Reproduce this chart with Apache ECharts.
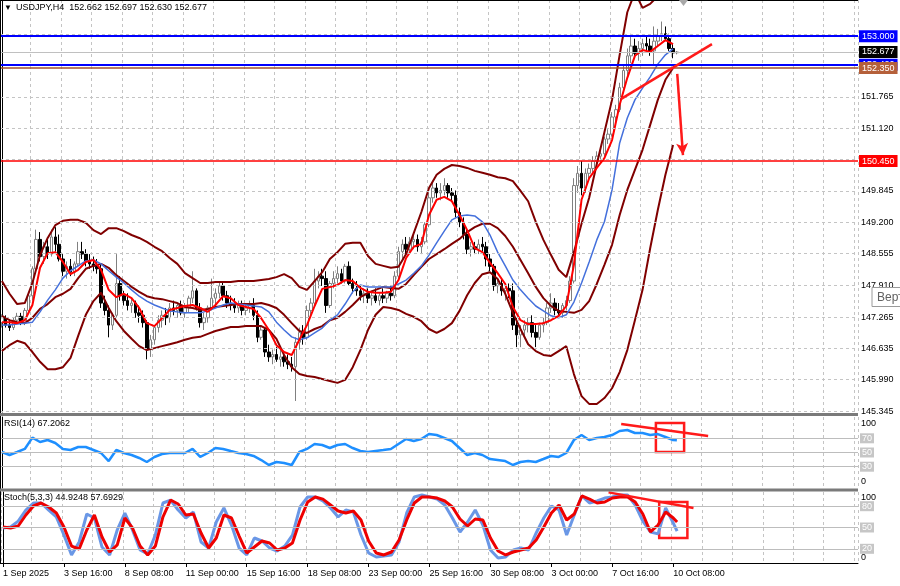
<!DOCTYPE html>
<html><head><meta charset="utf-8">
<script src="https://cdn.jsdelivr.net/npm/echarts@6/dist/echarts.min.js"></script>
<style>html,body{margin:0;padding:0;background:#fff}#c{width:900px;height:586px}</style>
</head><body><div id="c"></div>
<script>
const symbolTitle = 'USDJPY,H4';
const lastOHLC = ['152.662', '152.697', '152.630', '152.677'];
const rsiTitle = 'RSI(14) 67.2062';
const stochTitle = 'Stoch(5,3,3) 44.9248 57.6929';
const xTickLabels = ['1 Sep 2025','3 Sep 16:00','8 Sep 08:00','11 Sep 00:00','15 Sep 16:00','18 Sep 08:00','23 Sep 00:00','25 Sep 16:00','30 Sep 08:00','3 Oct 00:00','7 Oct 16:00','10 Oct 08:00'];
const barsPerLabel = 16;
const barsPerGrid = 8;
const totalSlots = 225;

const opens = [147.15,147.25,147.10,147.05,147.20,147.28,147.15,147.40,147.70,148.25,148.85,148.50,148.70,148.55,148.90,148.75,148.45,148.20,148.30,148.18,
148.35,148.60,148.55,148.40,148.35,148.30,148.25,147.55,147.40,147.10,147.30,147.95,147.70,147.60,147.50,147.55,147.35,147.30,147.15,146.60,
146.80,147.05,147.20,147.30,147.25,147.45,147.40,147.50,147.35,147.45,147.65,147.80,147.45,147.15,147.25,147.45,147.65,147.75,147.90,147.70,
147.55,147.50,147.45,147.50,147.40,147.45,147.50,147.30,146.85,147.00,146.55,146.45,146.50,146.40,146.45,146.35,146.30,146.25,146.75,146.95,
146.85,147.40,147.55,148.00,148.10,148.05,147.50,147.95,148.05,148.15,148.00,148.30,147.95,147.85,147.80,147.70,147.75,147.65,147.70,147.60,
147.70,147.65,147.75,147.70,148.10,148.60,148.75,148.65,148.80,148.85,148.70,148.80,149.15,149.70,149.90,149.80,149.85,149.95,149.80,149.75,
149.40,149.20,148.95,148.65,148.70,148.65,148.75,148.70,148.45,148.30,147.90,147.95,147.80,147.85,147.80,147.10,146.90,147.00,147.10,147.15,
146.95,146.85,147.10,147.15,147.45,147.55,147.40,147.35,147.50,147.60,148.00,149.95,150.20,149.90,150.20,150.30,150.45,150.55,150.60,150.90,
151.00,151.35,151.50,151.95,152.30,152.60,152.80,152.65,152.75,152.85,152.80,152.70,152.90,153.00,153.05,152.95,152.75,152.662];
const highs = [147.32,147.30,147.22,147.25,147.35,147.35,147.45,147.75,148.30,149.05,149.00,148.80,148.85,149.05,149.10,148.95,148.55,148.40,148.45,148.40,
148.80,148.80,148.65,148.55,148.50,148.45,148.35,147.70,147.50,147.35,148.55,148.10,147.80,147.75,147.65,147.60,147.50,147.40,147.20,146.90,
147.10,147.30,147.40,147.45,147.55,147.60,147.55,147.60,147.55,147.70,148.20,147.85,147.55,147.35,147.50,148.05,147.85,148.00,148.00,147.80,
147.70,147.65,147.60,147.60,147.55,147.60,147.65,147.40,147.10,147.05,146.70,146.60,146.65,146.60,146.55,146.50,146.45,146.85,147.05,147.10,
147.50,147.65,148.25,148.20,148.25,148.20,148.00,148.20,148.30,148.25,148.35,148.40,148.05,148.00,147.90,147.85,147.85,147.80,147.85,147.75,
147.85,147.80,147.90,148.20,148.70,148.85,148.90,148.90,149.00,148.95,148.90,149.20,149.80,150.05,150.00,150.00,150.10,150.00,149.90,149.85,
149.50,149.30,149.05,148.80,148.80,148.85,148.90,148.80,148.55,148.35,148.05,148.05,147.95,147.95,147.95,147.25,147.10,147.20,147.25,147.30,
147.10,147.15,147.25,147.55,147.75,147.65,147.55,147.55,147.70,148.10,150.10,150.35,150.45,150.30,150.40,150.55,150.65,150.70,150.95,151.10,
151.45,151.60,152.05,152.40,152.75,153.05,152.95,152.90,152.95,153.00,152.95,153.20,153.15,153.30,153.20,153.05,152.85,152.697];
const lows = [147.05,147.05,146.98,147.00,147.12,147.10,147.10,147.35,147.60,148.15,148.40,148.35,148.45,148.50,148.60,148.40,148.10,148.05,148.10,148.10,
148.30,148.45,148.30,148.25,148.20,148.15,147.45,147.30,146.85,147.00,147.25,147.60,147.50,147.40,147.35,147.25,147.15,147.05,146.40,146.45,
146.70,146.95,147.05,147.10,147.15,147.30,147.25,147.30,147.25,147.35,147.55,147.40,147.05,147.00,147.15,147.40,147.50,147.65,147.60,147.45,
147.40,147.35,147.35,147.30,147.30,147.35,147.20,146.75,146.80,146.45,146.35,146.30,146.35,146.25,146.25,146.20,146.15,145.55,146.60,146.70,
146.80,147.30,147.50,147.85,147.90,147.35,147.45,147.85,147.95,147.95,147.95,147.90,147.75,147.70,147.60,147.55,147.55,147.50,147.55,147.50,
147.55,147.55,147.60,147.65,148.05,148.45,148.55,148.55,148.65,148.60,148.55,148.75,149.10,149.60,149.70,149.65,149.75,149.70,149.65,149.30,
149.10,148.85,148.55,148.50,148.55,148.55,148.60,148.30,148.20,147.80,147.75,147.70,147.60,147.65,147.00,146.65,146.65,146.85,146.95,146.85,
146.65,146.80,146.95,147.10,147.35,147.30,147.25,147.25,147.40,147.55,147.95,149.80,149.75,149.80,150.05,150.20,150.35,150.40,150.55,150.80,
150.95,151.25,151.45,151.90,152.20,152.45,152.55,152.50,152.60,152.70,152.60,152.40,152.80,152.90,152.90,152.70,152.55,152.630];
const closes = [147.25,147.10,147.05,147.20,147.28,147.15,147.40,147.70,148.25,148.85,148.50,148.70,148.55,148.90,148.75,148.45,148.20,148.30,148.18,148.35,
148.60,148.55,148.40,148.35,148.30,148.25,147.55,147.40,147.10,147.30,147.95,147.70,147.60,147.50,147.55,147.35,147.30,147.15,146.60,146.80,
147.05,147.20,147.30,147.25,147.45,147.40,147.50,147.35,147.45,147.65,147.80,147.45,147.15,147.25,147.45,147.65,147.75,147.90,147.70,147.55,
147.50,147.45,147.50,147.40,147.45,147.50,147.30,146.85,147.00,146.55,146.45,146.50,146.40,146.45,146.35,146.30,146.25,146.75,146.95,146.85,
147.40,147.55,148.00,148.10,148.05,147.50,147.95,148.05,148.15,148.00,148.30,147.95,147.85,147.80,147.70,147.75,147.65,147.70,147.60,147.70,
147.65,147.75,147.70,148.10,148.60,148.75,148.65,148.80,148.85,148.70,148.80,149.15,149.70,149.90,149.80,149.85,149.95,149.80,149.75,149.40,
149.20,148.95,148.65,148.70,148.65,148.75,148.70,148.45,148.30,147.90,147.95,147.80,147.85,147.80,147.10,146.90,147.00,147.10,147.15,146.95,
146.85,147.10,147.15,147.45,147.55,147.40,147.35,147.50,147.60,148.00,149.95,150.20,149.90,150.20,150.30,150.45,150.55,150.60,150.90,151.00,
151.35,151.50,151.95,152.30,152.60,152.80,152.65,152.75,152.85,152.80,152.70,152.90,153.00,153.05,152.95,152.75,152.66,152.677];

// indicator lines, one value every 2 bars (bar 0, 2, 4 ... 176)
const bbUpper = [148.00,147.74,147.53,147.55,147.96,148.53,148.88,149.14,149.23,149.25,
149.25,149.19,149.04,148.96,149.08,149.08,149.02,148.94,148.88,148.80,
148.70,148.61,148.47,148.35,148.16,148.06,147.96,147.96,147.98,147.98,
147.98,148.00,148.00,148.00,148.02,148.04,148.08,148.14,148.06,147.88,
147.82,148.00,148.18,148.45,148.59,148.76,148.78,148.78,148.51,148.35,
148.31,148.27,148.29,148.55,148.98,149.41,149.90,150.17,150.29,150.37,
150.35,150.31,150.25,150.21,150.17,150.12,150.10,150.04,149.84,149.63,
149.21,148.84,148.53,148.23,148.08,148.59,149.17,149.70,150.39,151.04,
151.70,152.62,153.49,153.90,153.58,153.66,153.82,153.94,153.99];
const bbMiddle = [147.29,147.20,147.16,147.14,147.25,147.43,147.53,147.67,147.74,147.84,
148.06,148.25,148.31,148.35,148.27,148.12,148.00,147.88,147.78,147.69,
147.65,147.63,147.59,147.55,147.47,147.45,147.41,147.43,147.47,147.49,
147.51,147.53,147.53,147.53,147.55,147.51,147.45,147.31,147.14,146.98,
146.94,147.02,147.08,147.20,147.25,147.37,147.51,147.67,147.76,147.82,
147.88,147.86,147.84,147.94,148.12,148.29,148.45,148.55,148.65,148.76,
148.86,149.00,149.10,149.17,149.17,149.08,148.92,148.70,148.43,148.16,
147.88,147.65,147.49,147.39,147.37,147.35,147.41,147.59,147.94,148.33,
148.74,149.35,149.86,150.27,150.68,151.19,151.70,152.11,152.35];
const bbLower = [146.57,146.69,146.78,146.73,146.55,146.35,146.20,146.20,146.24,146.43,
146.88,147.31,147.59,147.76,147.45,147.18,146.98,146.82,146.67,146.59,
146.63,146.67,146.71,146.75,146.80,146.84,146.86,146.92,146.98,147.02,
147.06,147.06,147.08,147.08,147.08,147.00,146.82,146.49,146.24,146.10,
146.06,146.04,146.00,145.96,145.92,145.98,146.24,146.59,147.00,147.31,
147.47,147.45,147.41,147.33,147.27,147.18,147.02,146.94,147.02,147.14,
147.39,147.71,147.96,148.14,148.18,148.04,147.74,147.35,147.02,146.71,
146.57,146.49,146.47,146.57,146.67,146.10,145.65,145.49,145.49,145.61,
145.81,146.14,146.59,147.20,147.82,148.67,149.45,150.17,150.78];
const maFast = [147.16,147.16,147.14,147.20,147.51,148.27,148.57,148.59,148.39,148.14,
148.23,148.39,148.43,148.23,147.82,147.67,147.74,147.65,147.45,147.14,
147.08,147.24,147.41,147.45,147.49,147.51,147.45,147.37,147.51,147.69,
147.65,147.51,147.47,147.43,147.24,147.00,146.69,146.55,146.49,146.80,
147.10,147.49,147.84,147.88,147.92,148.02,148.00,147.86,147.78,147.76,
147.76,147.78,148.02,148.47,148.70,148.76,149.35,149.66,149.72,149.63,
149.35,149.04,148.67,148.59,148.37,148.16,147.94,147.47,147.20,147.12,
147.12,147.14,147.20,147.29,147.49,148.33,149.66,150.10,150.31,150.51,
150.88,151.60,152.15,152.60,152.72,152.68,152.80,152.92,152.84];
const maSlow = [147.10,147.10,147.12,147.14,147.16,147.37,147.61,147.82,148.06,148.21,
148.31,148.41,148.43,148.35,148.21,148.08,147.96,147.82,147.69,147.59,
147.51,147.45,147.39,147.37,147.35,147.35,147.35,147.39,147.45,147.51,
147.55,147.53,147.51,147.49,147.47,147.37,147.16,147.00,146.86,146.80,
146.84,146.94,147.04,147.20,147.31,147.53,147.78,147.92,147.88,147.88,
147.88,147.88,147.94,148.02,148.16,148.31,148.53,148.78,149.02,149.25,
149.33,149.35,149.33,149.21,148.94,148.59,148.31,148.02,147.82,147.65,
147.49,147.39,147.29,147.25,147.31,147.57,147.96,148.39,148.84,149.21,
149.86,150.82,151.33,151.70,151.94,152.17,152.43,152.62,152.74];
const rsiValues = [50.7,46.5,50.7,55.0,71.0,64.8,67.6,63.4,55.0,53.5,
57.7,57.7,53.5,49.3,38.0,53.5,49.3,46.5,42.3,36.6,
43.7,47.9,49.3,49.3,49.3,55.0,43.7,49.3,56.3,55.0,
52.1,49.3,47.9,45.1,39.4,32.4,36.6,35.2,32.4,50.7,
55.0,62.0,60.6,56.3,60.6,62.0,56.3,52.1,50.7,52.1,
53.5,55.0,62.0,69.0,66.2,69.0,76.0,74.6,70.4,66.2,
56.3,46.5,49.3,46.5,40.8,39.4,38.0,32.4,36.6,38.0,
36.6,40.8,45.1,43.7,49.3,67.6,74.6,67.6,70.4,71.8,
74.6,80.3,81.7,77.5,77.5,74.6,76.0,71.8,67.6];
const rsiLast = 67.2062;
const stochK = [49.3,50.7,59.0,74.6,84.5,84.5,74.6,64.8,39.4,11.3,
29.6,69.0,63.4,22.5,11.3,46.5,70.4,46.5,18.3,12.7,
39.4,84.5,88.7,74.6,63.4,71.8,29.6,21.1,57.7,77.5,
53.5,21.1,11.3,35.2,31.0,21.1,16.9,23.9,39.4,78.9,
93.0,93.0,87.3,77.5,64.8,74.6,71.8,39.4,14.1,8.5,
9.9,11.3,29.6,70.4,93.0,95.8,93.0,90.0,81.7,63.4,
43.7,57.7,74.6,53.5,18.3,7.0,8.5,18.3,21.1,18.3,
42.3,63.4,80.3,74.6,39.4,67.6,94.4,84.5,87.3,91.5,
93.0,95.8,95.8,81.7,59.0,43.7,41.0,77.5,56.3];
const stochKLast = 44.9248;
const stochD = [50.7,49.3,52.1,67.6,80.3,84.5,78.9,70.4,50.7,23.9,
19.7,46.5,67.6,36.6,15.5,25.4,63.4,49.3,23.9,11.3,
23.9,64.8,88.7,83.1,67.6,69.0,42.3,21.1,35.2,67.6,
63.4,38.0,14.1,22.5,31.0,28.2,18.3,21.1,28.2,60.6,
85.9,93.0,90.0,81.7,73.2,70.4,73.2,60.6,31.0,14.1,
11.3,15.5,32.4,60.6,84.5,93.0,93.0,91.5,87.3,78.9,
62.0,52.1,62.0,60.6,35.2,16.9,11.3,15.5,18.3,21.1,
32.4,50.7,70.4,81.7,60.6,69.0,94.4,90.0,84.5,85.9,
91.5,93.0,93.0,85.9,69.0,43.7,53.5,71.8,63.4];
const stochDLast = 57.6929;

// price scale
const priceMin = 145.325, priceMax = 153.74;
const priceGridTicks = [153.050, 152.410, 151.765, 151.120, 150.485, 149.845, 149.200, 148.555, 147.910, 147.265, 146.635, 145.990, 145.345];
const priceLabelTicks = [151.765, 151.120, 149.845, 149.200, 148.555, 147.910, 147.265, 146.635, 145.990, 145.345];
// horizontal levels
const levelValues = [152.420, 152.350, 153.000, 150.450, 152.677];
const levelLabels = ['152.420', '152.350', '153.000', '150.450', '152.677'];
const levelColors = ['#0000ff', '#a0522d', '#0000ff', '#ff0000', '#c0c0c0'];
const levelLabelBg = ['#0000ff', '#b5603a', '#0000ff', '#ff0000', '#000000'];
const levelWidths = [2, 1.5, 2, 1.5, 1];

const rsiLevels = [70, 50, 30];
const stochLevels = [80, 50, 20];

// hand drawn annotations: [bar position, value]
const trendMain = [[162.4, 151.72], [186.2, 152.84]];
const arrowMain = [[177.1, 152.23], [178.6, 150.57]];
const trendRsi = [[162.4, 90.1], [185.2, 73.2]];
const boxRsi = [[171.5, 91.5], [178.9, 50.7]];
const trendStoch = [[159.0, 99.5], [181.3, 77.5]];
const boxStoch = [[172.3, 85.9], [179.7, 35.2]];

const FONT = 'Liberation Sans, Arial, sans-serif';
const N = totalSlots;
const nBars = opens.length;
const cats = Array.from({length: N}, (_, i) => String(i));
function sparse(vals, last) {
  const out = new Array(N).fill(null);
  vals.forEach((v, k) => { out[k * 2] = v; });
  if (last != null) out[nBars - 1] = last;
  return out;
}
const candleData = opens.map((o, i) => [o, closes[i], lows[i], highs[i]]);
const gridFn = (idx) => idx % barsPerGrid === 0;
const labelFn = (idx) => idx % barsPerLabel === 0 && idx / barsPerLabel < xTickLabels.length;

function catAxis(g, withLabels) {
  return {
    type: 'category', gridIndex: g, data: cats, boundaryGap: true,
    axisLine: {show: withLabels, lineStyle: {color: '#000', width: 1}},
    axisTick: {show: withLabels, alignWithLabel: true, interval: labelFn, length: 4, lineStyle: {color: '#000'}},
    axisLabel: {show: withLabels, interval: labelFn, align: 'left', fontSize: 9, fontFamily: FONT, color: '#000', margin: 6,
      formatter: (v, idx) => xTickLabels[Math.round(idx / barsPerLabel)] || ''},
    splitLine: {show: true, interval: gridFn, lineStyle: {color: '#c4c4c4', type: [3, 3], width: 1}}
  };
}
function valAxisX(g) { return {type: 'value', gridIndex: g, min: -0.5, max: N - 0.5, show: false}; }
function yAx(g, min, max) {
  return {type: 'value', gridIndex: g, min: min, max: max, position: 'right',
    axisLine: {show: true, lineStyle: {color: '#000'}}, axisTick: {show: false}, axisLabel: {show: false}, splitLine: {show: false}};
}
const labelBase = {show: true, position: 'end', fontSize: 9, fontFamily: FONT, color: '#000', distance: 3};

function lineSeries(name, data, color, width, xi, yi, z) {
  return {name, type: 'line', xAxisIndex: xi, yAxisIndex: yi, data, connectNulls: true, showSymbol: false, symbol: 'none',
    smooth: false, lineStyle: {color, width}, z, silent: true, animation: false};
}

const series = [];
series.push({type: 'line', xAxisIndex: 3, yAxisIndex: 0, data: [], z: 1, silent: true,
  markLine: {symbol: ['none', 'none'], silent: true, animation: false,
    data: priceGridTicks.map(v => ({yAxis: v,
      lineStyle: {color: '#c4c4c4', type: [3, 3], width: 1},
      label: Object.assign({}, labelBase, {show: priceLabelTicks.includes(v), formatter: v.toFixed(3)})}))}});
series.push({type: 'candlestick', xAxisIndex: 0, yAxisIndex: 0, data: candleData, barWidth: 3, z: 2, silent: true,
  itemStyle: {color: '#ffffff', borderColor: '#808080', color0: '#000000', borderColor0: '#000000', borderWidth: 1}});
series.push(lineSeries('bbU', sparse(bbUpper), '#800000', 2, 0, 0, 3));
series.push(lineSeries('bbM', sparse(bbMiddle), '#800000', 2, 0, 0, 3));
series.push(lineSeries('bbL', sparse(bbLower), '#800000', 2, 0, 0, 3));
series.push(lineSeries('maSlow', sparse(maSlow), '#4470dc', 1.5, 0, 0, 4));
series.push(lineSeries('maFast', sparse(maFast), '#ff0000', 2, 0, 0, 4));
series.push({type: 'line', xAxisIndex: 3, yAxisIndex: 0, data: [], z: 5, silent: true,
  markLine: {symbol: ['none', 'none'], silent: true, animation: false,
    data: levelValues.map((v, k) => ({yAxis: v,
      lineStyle: {color: levelColors[k], width: levelWidths[k], type: 'solid'},
      label: Object.assign({}, labelBase, {formatter: levelLabels[k], color: '#fff', backgroundColor: levelLabelBg[k],
        padding: [2, 3, 1, 3], distance: 1})}))}});
series.push({type: 'line', xAxisIndex: 3, yAxisIndex: 0, data: [], z: 6, silent: true,
  markLine: {silent: true, animation: false, symbol: ['none', 'none'],
    lineStyle: {color: '#ff1a1a', width: 2.5, type: 'solid'}, label: {show: false},
    data: [
      [{coord: trendMain[0]}, {coord: trendMain[1]}],
      [{coord: arrowMain[0], symbol: 'none'}, {coord: arrowMain[1], symbol: 'arrow', symbolSize: [9, 12]}]
    ]}});

series.push({type: 'line', xAxisIndex: 4, yAxisIndex: 1, data: [], z: 1, silent: true,
  markLine: {symbol: ['none', 'none'], silent: true, animation: false,
    data: rsiLevels.map(v => ({yAxis: v, lineStyle: {color: '#bdbdbd', type: 'solid', width: 1},
      label: Object.assign({}, labelBase, {formatter: String(v), color: '#fff', backgroundColor: '#c6c6c6', padding: [1, 2, 0, 2], distance: 2})}))
      .concat([
        {yAxis: 91.5, lineStyle: {color: 'rgba(0,0,0,0)', width: 0}, label: Object.assign({}, labelBase, {formatter: '100'})},
        {yAxis: 9.5, lineStyle: {color: 'rgba(0,0,0,0)', width: 0}, label: Object.assign({}, labelBase, {formatter: '0'})}
      ])}});
series.push(lineSeries('rsi', sparse(rsiValues, rsiLast), '#1e8fff', 2.5, 1, 1, 3));
series.push({type: 'line', xAxisIndex: 4, yAxisIndex: 1, data: [], z: 6, silent: true,
  markLine: {silent: true, animation: false, symbol: ['none', 'none'],
    lineStyle: {color: '#ff1a1a', width: 2.5, type: 'solid'}, label: {show: false},
    data: [[{coord: trendRsi[0]}, {coord: trendRsi[1]}]]},
  markArea: {silent: true, itemStyle: {color: 'rgba(0,0,0,0)', borderColor: '#ff1a1a', borderWidth: 2.5},
    data: [[{coord: boxRsi[0]}, {coord: boxRsi[1]}]]}});

series.push({type: 'line', xAxisIndex: 5, yAxisIndex: 2, data: [], z: 1, silent: true,
  markLine: {symbol: ['none', 'none'], silent: true, animation: false,
    data: stochLevels.map(v => ({yAxis: v, lineStyle: {color: '#bdbdbd', type: 'solid', width: 1},
      label: Object.assign({}, labelBase, {formatter: String(v), color: '#fff', backgroundColor: '#c6c6c6', padding: [1, 2, 0, 2], distance: 2})}))
      .concat([
        {yAxis: 92.5, lineStyle: {color: 'rgba(0,0,0,0)', width: 0}, label: Object.assign({}, labelBase, {formatter: '100'})},
        {yAxis: 7.5, lineStyle: {color: 'rgba(0,0,0,0)', width: 0}, label: Object.assign({}, labelBase, {formatter: '0'})}
      ])}});
series.push(lineSeries('stochK', sparse(stochK, stochKLast), '#6a97e6', 3, 2, 2, 3));
series.push(lineSeries('stochD', sparse(stochD, stochDLast), '#ee0000', 3, 2, 2, 4));
series.push({type: 'line', xAxisIndex: 5, yAxisIndex: 2, data: [], z: 6, silent: true,
  markLine: {silent: true, animation: false, symbol: ['none', 'none'],
    lineStyle: {color: '#ff1a1a', width: 2.5, type: 'solid'}, label: {show: false},
    data: [[{coord: trendStoch[0]}, {coord: trendStoch[1]}]]},
  markArea: {silent: true, itemStyle: {color: 'rgba(0,0,0,0)', borderColor: '#ff1a1a', borderWidth: 2.5},
    data: [[{coord: boxStoch[0]}, {coord: boxStoch[1]}]]}});

const chart = echarts.init(document.getElementById('c'), null, {renderer: 'canvas'});
chart.setOption({
  animation: false,
  backgroundColor: '#ffffff',
  textStyle: {fontFamily: FONT},
  title: [
    {text: '\u25BC', left: 4, top: 4, padding: 0, textStyle: {fontSize: 8, color: '#000', fontWeight: 'normal'}},
    {text: symbolTitle + '  ' + lastOHLC.join(' '), left: 16, top: 3, padding: 0, textStyle: {fontSize: 9, color: '#000', fontWeight: 'normal', fontFamily: FONT}},
    {text: rsiTitle, left: 4, top: 419, padding: 0, textStyle: {fontSize: 9, color: '#000', fontWeight: 'normal', fontFamily: FONT}},
    {text: stochTitle, left: 4, top: 493, padding: 0, textStyle: {fontSize: 9, color: '#000', fontWeight: 'normal', fontFamily: FONT}}
  ],
  grid: [
    {left: 0, top: 0, width: 858, height: 412},
    {left: 0, top: 417, width: 858, height: 71},
    {left: 0, top: 492, width: 858, height: 71}
  ],
  xAxis: [catAxis(0, false), catAxis(1, false), catAxis(2, true), valAxisX(0), valAxisX(1), valAxisX(2)],
  yAxis: [yAx(0, priceMin, priceMax), yAx(1, 0, 100), yAx(2, 0, 100)],
  series: series,
  graphic: [
    {type: 'line', shape: {x1: 0.5, y1: 0, x2: 0.5, y2: 564}, style: {stroke: '#000', lineWidth: 1}, z: 50},
    {type: 'line', shape: {x1: 0, y1: 0.5, x2: 858, y2: 0.5}, style: {stroke: '#000', lineWidth: 1}, z: 50},
    {type: 'rect', shape: {x: 0, y: 413, width: 858, height: 3}, style: {fill: '#7a7a7a'}, z: 50},
    {type: 'rect', shape: {x: 0, y: 488.5, width: 858, height: 3}, style: {fill: '#7a7a7a'}, z: 50},
    {type: 'polygon', shape: {points: [[679, 0], [688, 0], [683.5, 6]]}, style: {fill: '#a8a8a8'}, z: 50},
    {type: 'rect', shape: {x: 872, y: 287.5, width: 40, height: 19}, style: {fill: '#ffffff', stroke: '#9a9a9a', lineWidth: 1}, z: 60},
    {type: 'text', x: 877, y: 298, style: {text: '\u0412\u0435\u0440\u0442', fontSize: 12, fontFamily: FONT, fill: '#606060', verticalAlign: 'middle'}, z: 61}
  ]
});
</script>
</body></html>
